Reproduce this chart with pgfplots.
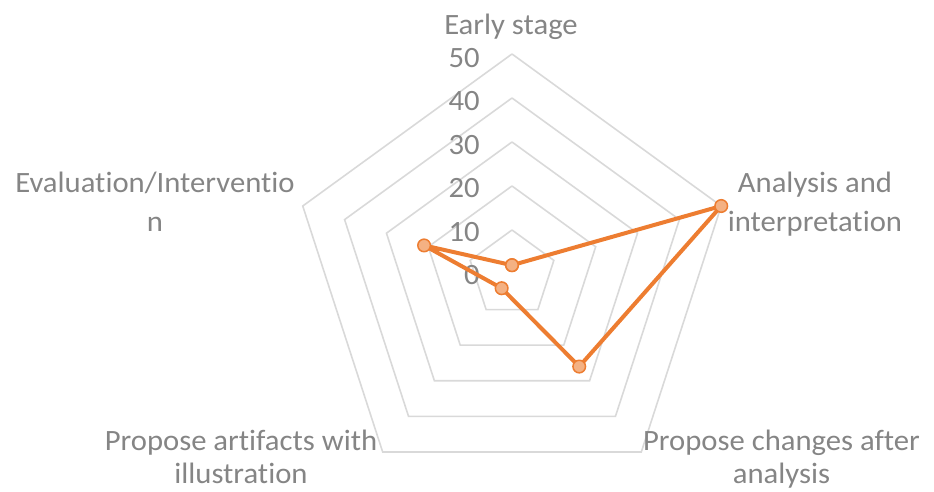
\documentclass[border=0pt]{standalone}
\usepackage{fontspec}
\setmainfont{Carlito}[Ligatures=NoCommon, FakeStretch=1.04]
\usepackage{pgfplots}
\pgfplotsset{compat=1.18}
\definecolor{gridgray}{HTML}{D9D9D9}
\definecolor{txtgray}{HTML}{858585}
\definecolor{orangeline}{HTML}{ED7D31}
\definecolor{orangefill}{HTML}{F4B183}
\tikzset{lbl/.style={inner sep=0pt, text=txtgray, font=\fontsize{29.5bp}{35bp}\selectfont}}
\begin{document}
\begin{tikzpicture}
\begin{axis}[
  x=4.4bp, y=4.4bp,
  xmin=-116.36, xmax=95.91, ymin=-49.32, ymax=62.27,
  hide axis, clip=false,
]
\path[draw=none] (rel axis cs:0,0) rectangle (rel axis cs:1,1);
% pentagon grid
\addplot[data cs=polar, draw=gridgray, line width=1.6bp, no marks] coordinates {(90,10)(18,10)(-54,10)(-126,10)(162,10)(90,10)};
\addplot[data cs=polar, draw=gridgray, line width=1.6bp, no marks] coordinates {(90,20)(18,20)(-54,20)(-126,20)(162,20)(90,20)};
\addplot[data cs=polar, draw=gridgray, line width=1.6bp, no marks] coordinates {(90,30)(18,30)(-54,30)(-126,30)(162,30)(90,30)};
\addplot[data cs=polar, draw=gridgray, line width=1.6bp, no marks] coordinates {(90,40)(18,40)(-54,40)(-126,40)(162,40)(90,40)};
\addplot[data cs=polar, draw=gridgray, line width=1.6bp, no marks] coordinates {(90,50)(18,50)(-54,50)(-126,50)(162,50)(90,50)};
% tick labels
\node[lbl, anchor=base east] at (axis cs:-7.3,-2.5) {0};
\node[lbl, anchor=base east] at (axis cs:-7.3,7.4) {10};
\node[lbl, anchor=base east] at (axis cs:-7.3,17.3) {20};
\node[lbl, anchor=base east] at (axis cs:-7.3,27.2) {30};
\node[lbl, anchor=base east] at (axis cs:-7.3,37.1) {40};
\node[lbl, anchor=base east] at (axis cs:-7.3,47.0) {50};
% data
\addplot[data cs=polar, draw=orangeline, line width=4bp, line join=round, mark=*, mark size=6.3bp,
  mark options={fill=orangefill, draw=orangeline, line width=1.5bp}]
  coordinates {(90,2)(18,50)(-54,26)(-126,4)(162,21)(90,2)};
% category labels
\node[lbl, anchor=base] at (axis cs:-0.23,54.32) {Early stage};
\node[lbl, anchor=base] at (axis cs:68.86,18.41) {Analysis and};
\node[lbl, anchor=base] at (axis cs:68.86,9.55) {interpretation};
\node[lbl, anchor=base] at (axis cs:61.25,-40.2) {Propose changes after};
\node[lbl, anchor=base] at (axis cs:61.25,-47.6) {analysis};
\node[lbl, anchor=base] at (axis cs:-61.59,-40.2) {Propose artifacts with};
\node[lbl, anchor=base] at (axis cs:-61.59,-47.6) {illustration};
\node[lbl, anchor=base] at (axis cs:-81.14,18.41) {Evaluation/Interventio};
\node[lbl, anchor=base] at (axis cs:-81.14,9.55) {n};
\end{axis}
\end{tikzpicture}
\end{document}
